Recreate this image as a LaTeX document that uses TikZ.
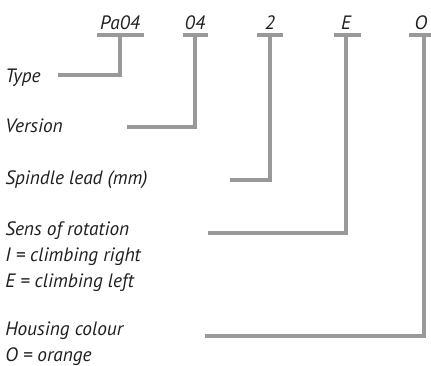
\documentclass[tikz,border=0pt]{standalone}
\usepackage{fontspec}
\setmainfont{PT Sans}
\usetikzlibrary{positioning}
\begin{document}
\begin{tikzpicture}[x=0.75pt,y=-0.75pt,
  lbl/.style={font=\fontsize{14.5}{19.2}\selectfont\itshape, text=black!88,
              inner sep=0pt, anchor=base west, align=left},
  code/.style={lbl, anchor=base},
  bar/.style={draw=black!40, line width=3pt},
  lead/.style={draw=black!40, line width=3pt}]
\useasboundingbox (0,0) rectangle (431,365);

% the code letters along the top, each with its bar
\foreach \name/\txt/\x/\xv/\l/\r in {pa/Pa04/120/120/97/144, ver/04/195/195/183/208,
    ld/2/270/270/257/283, rot/E/346/346/334/361, col/O/421/424/409/437}{%
  \node[code] (\name) at (\x,29) {\txt};
  \coordinate (\name-t) at (\xv,35);
  \draw[bar] (\l,35) -- (\r,35);}

% the meanings on the left, with the leads up to their codes
\node[lbl] (typ) at (5,82) {Type};
\coordinate (typ-e) at (58,75);
\draw[lead] (pa-t) |- (typ-e);

\node[lbl] (vsn) at (5,132) {Version};
\coordinate (vsn-e) at (127,127);
\draw[lead] (ver-t) |- (vsn-e);

\node[lbl] (spl) at (5,184) {Spindle lead (mm)};
\coordinate (spl-e) at (230,180);
\draw[lead] (ld-t) |- (spl-e);

\node[lbl] (sns) at (5,287) {Sens of rotation\\I = climbing right\\E = climbing left};
\coordinate (sns-e) at (208,233);
\draw[lead] (rot-t) |- (sns-e);

\node[lbl] (hsg) at (5,361) {Housing colour\\O = orange};
\coordinate (hsg-e) at (205,336);
\draw[lead] (col-t) |- (hsg-e);
\end{tikzpicture}
\end{document}
